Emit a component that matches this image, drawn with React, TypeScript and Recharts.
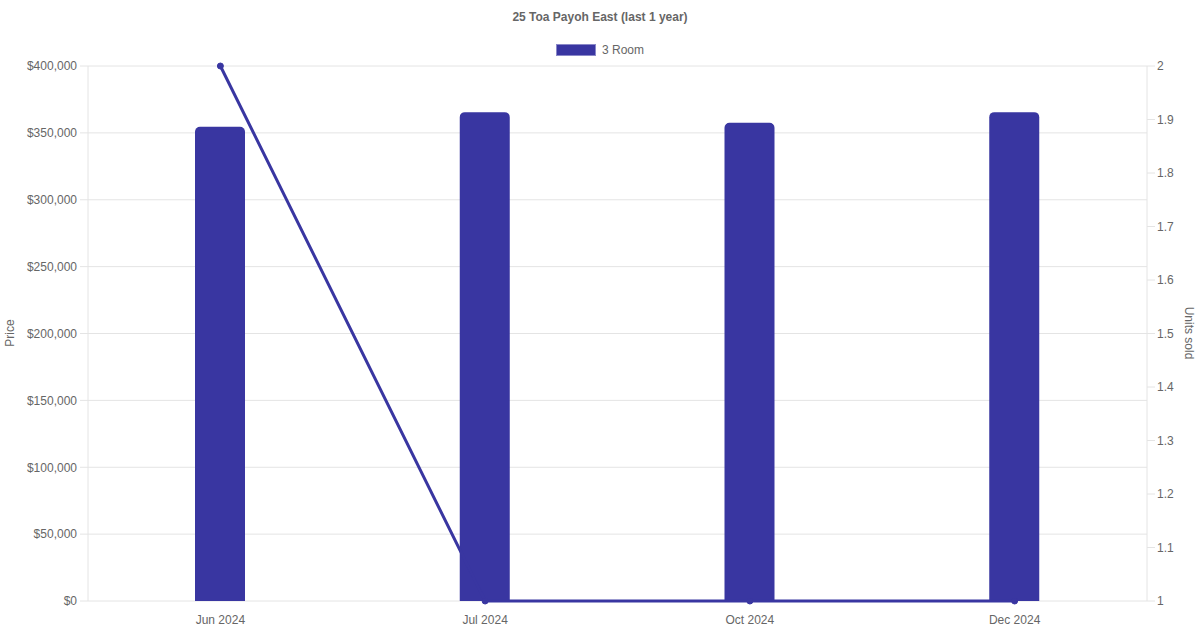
import React from "react"
import { ComposedChart, Bar, Line, XAxis, YAxis, CartesianGrid } from "recharts"

const months = ["Jun 2024", "Jul 2024", "Oct 2024", "Dec 2024"]
const prices = [354500, 365500, 357500, 365500]
const unitsSold = [2, 1, 1, 1]
const priceTicks = [0, 50000, 100000, 150000, 200000, 250000, 300000, 350000, 400000]
const unitTicks = [1, 1.1, 1.2, 1.3, 1.4, 1.5, 1.6, 1.7, 1.8, 1.9, 2]

const data = months.map((month, i) => ({ month, price: prices[i], units: unitsSold[i] }))

const FONT = '"Liberation Sans", Arial, Helvetica, sans-serif'
const COLOR = "#3936a1"
const GRID = "#e4e4e4"
const TEXT = "#666"

const tick = { fill: TEXT, fontSize: 12, fontFamily: FONT }

const App = (): React.ReactElement => {
  return (
    <div style={{ position: "fixed", left: 0, top: 0, width: 1200, height: 630, background: "#fff", fontFamily: FONT }}>
      <div style={{ position: "absolute", top: 10, width: 1200, textAlign: "center", fontSize: 12, fontWeight: "bold", color: TEXT }}>
        25 Toa Payoh East (last 1 year)
      </div>
      <div style={{ position: "absolute", top: 43, left: 0, width: 1200, display: "flex", justifyContent: "center", alignItems: "center", fontSize: 12, color: TEXT }}>
        <span style={{ display: "inline-block", width: 38, height: 10, background: COLOR, border: "1px solid #8a88c8", marginRight: 6 }} />
        <span>3 Room</span>
      </div>
      <div style={{ position: "absolute", left: 10, top: 333, transform: "translate(-50%, -50%) rotate(-90deg)", fontSize: 12, color: TEXT, whiteSpace: "nowrap" }}>
        Price
      </div>
      <div style={{ position: "absolute", left: 1189, top: 333, transform: "translate(-50%, -50%) rotate(90deg)", fontSize: 12, color: TEXT, whiteSpace: "nowrap" }}>
        Units sold
      </div>
      <ComposedChart
        width={1200}
        height={630}
        data={data}
        margin={{ top: 66, right: 0, left: 0, bottom: 0 }}
        style={{ position: "absolute", left: 0, top: 0 }}
      >
        <CartesianGrid yAxisId="left" vertical={false} stroke={GRID} />
        <XAxis
          dataKey="month"
          height={29}
          tick={tick}
          tickLine={false}
          tickSize={0}
          tickMargin={14}
          axisLine={false}
        />
        <YAxis
          yAxisId="left"
          width={88}
          domain={[0, 400000]}
          ticks={priceTicks}
          tick={tick}
          tickSize={8}
          tickMargin={3}
          tickLine={{ stroke: GRID }}
          axisLine={{ stroke: GRID }}
          tickFormatter={(v: number) => "$" + v.toLocaleString("en-US")}
        />
        <YAxis
          yAxisId="right"
          orientation="right"
          width={53}
          domain={[1, 2]}
          ticks={unitTicks}
          tick={tick}
          tickSize={8}
          tickMargin={2}
          tickLine={{ stroke: GRID }}
          axisLine={{ stroke: GRID }}
          tickFormatter={(v: number) => String(v)}
        />
        <Line
          yAxisId="right"
          dataKey="units"
          type="linear"
          stroke={COLOR}
          strokeWidth={3}
          dot={{ r: 3, fill: COLOR, stroke: COLOR, strokeWidth: 1 }}
          isAnimationActive={false}
        />
        <Bar yAxisId="left" dataKey="price" fill={COLOR} barSize={50} radius={[5, 5, 0, 0]} isAnimationActive={false} />
      </ComposedChart>
    </div>
  )
}

export default App
